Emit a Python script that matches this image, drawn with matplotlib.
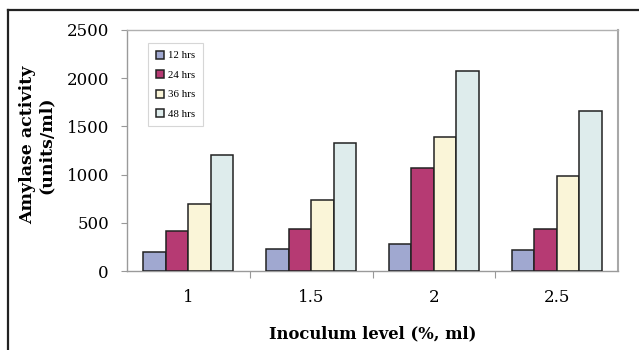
import matplotlib
matplotlib.use("Agg")
import matplotlib.pyplot as plt
import numpy as np
from matplotlib.lines import Line2D

categories = ["1", "1.5", "2", "2.5"]
series_names = ["12 hrs", "24 hrs", "36 hrs", "48 hrs"]
hrs12 = [200, 230, 280, 215]
hrs24 = [420, 440, 1070, 440]
hrs36 = [690, 740, 1390, 990]
hrs48 = [1200, 1330, 2070, 1655]
y_ticks = [0, 500, 1000, 1500, 2000, 2500]

colors = ["#A0A8D0", "#B63A73", "#FAF5D8", "#DEECEC"]
series = [hrs12, hrs24, hrs36, hrs48]

fig = plt.figure(figsize=(6.39, 3.5), dpi=100)
ax = fig.add_axes([127/639, 79/350, 491/639, 241/350])

x = np.arange(len(categories))
w = 0.1833
for i, (vals, c, name) in enumerate(zip(series, colors, series_names)):
    ax.bar(x + (i - 1.5) * w, vals, width=w, color=c, edgecolor="#222222",
           linewidth=1.1, label=name, zorder=3)

ax.set_xlim(-0.5, 3.5)
ax.set_ylim(0, 2500)
ax.set_yticks(y_ticks)
ax.set_yticklabels([str(v) for v in y_ticks], fontfamily="DejaVu Serif", fontsize=12)

ax.set_xticks([0.5, 1.5, 2.5])
ax.set_xticklabels([])
ax.set_xticks(x, minor=True)
ax.set_xticklabels(categories, minor=True, fontfamily="DejaVu Serif", fontsize=12)
ax.tick_params(axis="x", which="major", length=5, color="#999999", width=0.8, direction="out")
ax.tick_params(axis="x", which="minor", length=0, pad=13)
ax.tick_params(axis="y", length=4, color="#999999", width=0.8, direction="out", pad=9)

for s in ["left", "bottom", "top", "right"]:
    ax.spines[s].set_color("#9a9a9a")
    ax.spines[s].set_linewidth(1.0)
ax.spines["top"].set_color("#b0b0b0")
ax.spines["right"].set_color("#a8a8a8")
ax.spines["right"].set_linewidth(1.5)

ax.set_xlabel("Inoculum level (%, ml)", fontfamily="DejaVu Serif", fontweight="bold",
              fontsize=11.8, labelpad=14)
fig.text(37/639, 1 - 145/350, "Amylase activity\n(units/ml)", rotation=90,
         ha="center", va="center", fontfamily="DejaVu Serif", fontweight="bold",
         fontsize=12.5, linespacing=1.1)

leg = ax.legend(loc="upper left", bbox_to_anchor=(21/491, 228/241), borderaxespad=0,
                prop={"family": "Liberation Serif", "size": 7.8}, frameon=True,
                fancybox=False, edgecolor="#cccccc", handlelength=0.75,
                handleheight=0.75, handletextpad=0.4, labelspacing=0.9,
                borderpad=0.7)
leg.get_frame().set_linewidth(0.8)

# outer frame
fig.add_artist(Line2D([8/639, 8/639], [0, 1 - 10/350], transform=fig.transFigure,
                      color="#222222", linewidth=1.6))
fig.add_artist(Line2D([8/639, 1], [1 - 10/350, 1 - 10/350], transform=fig.transFigure,
                      color="#222222", linewidth=1.6))

fig.savefig("out.png", dpi=100, facecolor="white")
